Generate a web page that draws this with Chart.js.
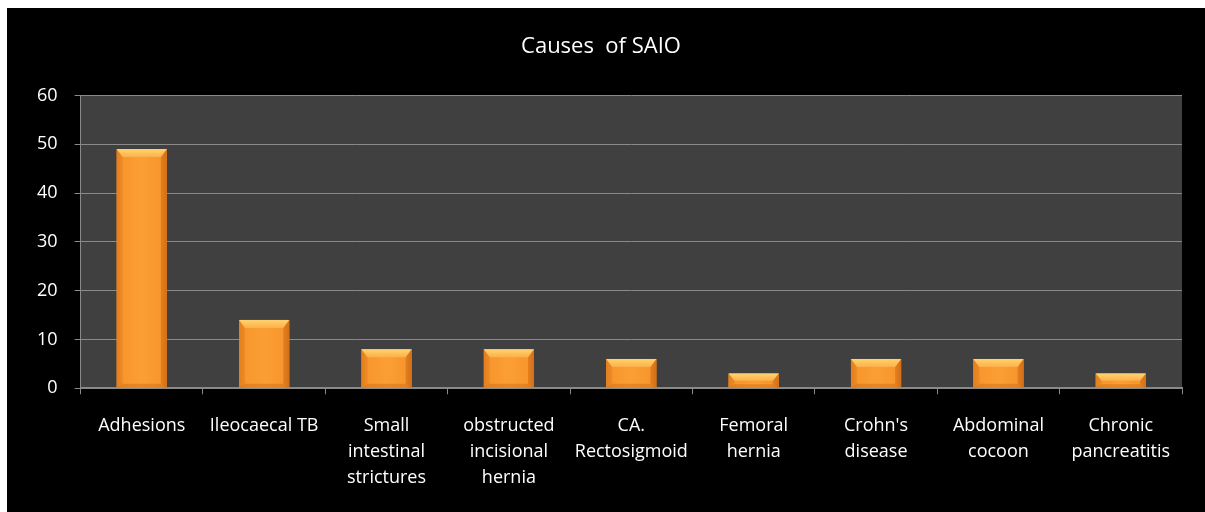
<!DOCTYPE html>
<html>
<head>
<meta charset="utf-8">
<script src="https://cdn.jsdelivr.net/npm/chart.js@4.4.0/dist/chart.umd.min.js"></script>
<style>
  html, body { margin: 0; padding: 0; background: #fff; }
  #wrap {
    position: absolute;
    left: 7px;
    top: 8px;
    width: 1198px;
    height: 504px;
    background: #000;
  }
</style>
</head>
<body>
<div id="wrap"><canvas id="chart"></canvas></div>
<script>
// data
var causes = [
  ["Adhesions"],
  ["Ileocaecal TB"],
  ["Small", "intestinal", "strictures"],
  ["obstructed", "incisional", "hernia"],
  ["CA.", "Rectosigmoid"],
  ["Femoral", "hernia"],
  ["Crohn's", "disease"],
  ["Abdominal", "cocoon"],
  ["Chronic", "pancreatitis"],
];
var counts = [49, 14, 8, 8, 6, 3, 6, 6, 3];
var yTicks = [0, 10, 20, 30, 40, 50, 60];

var gridGray = "#8a8a8a";
var fontName = "'Open Sans', 'DejaVu Sans', sans-serif";

// dark plot background
var plotBg = {
  id: "plotBg",
  beforeDraw: function (chart) {
    var a = chart.chartArea;
    var c = chart.ctx;
    c.save();
    c.fillStyle = "#404040";
    c.fillRect(a.left, a.top, a.right - a.left, a.bottom - a.top);
    c.restore();
  },
};

// bevel look on the bars
var bevel = {
  id: "bevel",
  afterDatasetsDraw: function (chart) {
    var c = chart.ctx;
    chart.getDatasetMeta(0).data.forEach(function (bar) {
      var w = bar.width;
      var x0 = bar.x - w / 2, x1 = bar.x + w / 2;
      var top = bar.y, bot = bar.base;
      var h = bot - top;
      var b = Math.min(8, h / 2);
      var s = Math.min(6, w / 4);
      c.save();

      // body gradient
      var g = c.createLinearGradient(x0, 0, x1, 0);
      g.addColorStop(0, "#e8841f");
      g.addColorStop(0.12, "#f7962c");
      g.addColorStop(0.5, "#fb9f35");
      g.addColorStop(0.88, "#f7962c");
      g.addColorStop(1, "#e07a1b");
      c.fillStyle = g;
      c.fillRect(x0, top, w, h);

      // left side
      c.fillStyle = "rgba(215,115,25,0.3)";
      c.beginPath();
      c.moveTo(x0, top); c.lineTo(x0 + s, top + b); c.lineTo(x0 + s, bot - b / 2); c.lineTo(x0, bot);
      c.closePath(); c.fill();

      // right side
      c.fillStyle = "rgba(195,95,15,0.4)";
      c.beginPath();
      c.moveTo(x1, top); c.lineTo(x1 - s, top + b); c.lineTo(x1 - s, bot - b / 2); c.lineTo(x1, bot);
      c.closePath(); c.fill();

      // top face
      var tg = c.createLinearGradient(0, top, 0, top + b);
      tg.addColorStop(0, "#ffd36e");
      tg.addColorStop(1, "#fdb04a");
      c.fillStyle = tg;
      c.beginPath();
      c.moveTo(x0, top); c.lineTo(x1, top); c.lineTo(x1 - s, top + b); c.lineTo(x0 + s, top + b);
      c.closePath(); c.fill();

      // bottom edge
      c.fillStyle = "rgba(200,100,20,0.4)";
      c.beginPath();
      c.moveTo(x0, bot); c.lineTo(x1, bot); c.lineTo(x1 - s, bot - b / 2); c.lineTo(x0 + s, bot - b / 2);
      c.closePath(); c.fill();

      c.restore();
    });
  },
};

new Chart(document.getElementById("chart"), {
  type: "bar",
  data: {
    labels: causes,
    datasets: [
      {
        data: counts,
        backgroundColor: "#f7952c",
        borderWidth: 0,
        barPercentage: 1,
        categoryPercentage: 0.41,
      },
    ],
  },
  options: {
    responsive: true,
    maintainAspectRatio: false,
    animation: false,
    layout: {
      padding: { left: 13, right: 23, top: 0, bottom: 2 },
    },
    plugins: {
      legend: { display: false },
      tooltip: { enabled: false },
      title: {
        display: true,
        text: "Causes  of SAIO",
        color: "#ffffff",
        font: { family: fontName, size: 22, weight: "normal" },
        padding: { top: 26, bottom: 35 },
      },
    },
    scales: {
      x: {
        offset: true,
        grid: {
          offset: true,
          drawOnChartArea: false,
          color: gridGray,
          tickLength: 6,
          lineWidth: 1,
        },
        border: { color: gridGray, width: 2 },
        ticks: {
          color: "#ffffff",
          padding: 19,
          maxRotation: 0,
          autoSkip: false,
          font: { family: fontName, size: 18, lineHeight: 1.44 },
        },
      },
      y: {
        min: 0,
        max: 60,
        afterBuildTicks: function (scale) {
          scale.ticks = yTicks.map(function (v) { return { value: v }; });
        },
        grid: {
          color: gridGray,
          tickLength: 6,
          lineWidth: 1,
        },
        border: { color: gridGray, width: 1 },
        ticks: {
          color: "#ffffff",
          padding: 17,
          font: { family: fontName, size: 18 },
        },
      },
    },
  },
  plugins: [plotBg, bevel],
});
</script>
</body>
</html>
